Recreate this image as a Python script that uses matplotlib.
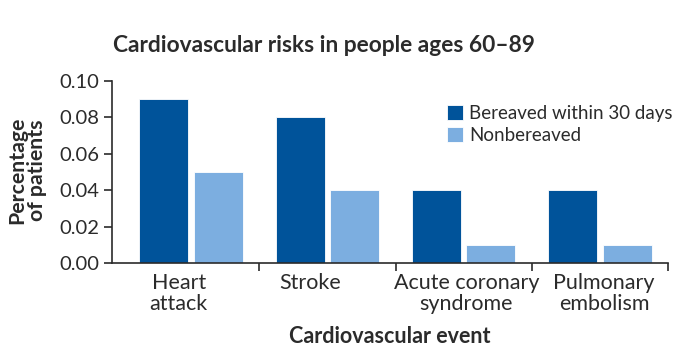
import numpy as np
import matplotlib
matplotlib.use("Agg")
import matplotlib.pyplot as plt

plt.rcParams['font.family'] = ['Lato', 'DejaVu Sans']

# data
events = ["Heart\nattack", "Stroke", "Acute coronary\nsyndrome", "Pulmonary\nembolism"]
bereaved = [0.09, 0.08, 0.04, 0.04]
nonbereaved = [0.05, 0.04, 0.01, 0.01]
yticks = [0.00, 0.02, 0.04, 0.06, 0.08, 0.10]

dark = '#00539a'
light = '#7caee0'
ink = '#2b2b2b'

fig = plt.figure(figsize=(6.79, 3.63), dpi=100)
ax = fig.add_axes([0.165, 0.2755, 0.819, 0.5014])

x = np.arange(len(events))
w = 0.36
ax.bar(x - 0.2, bereaved, w, color=dark, edgecolor='white', linewidth=0.6, label='Bereaved within 30 days')
ax.bar(x + 0.2, nonbereaved, w, color=light, edgecolor='white', linewidth=0.6, label='Nonbereaved')

ax.set_xlim(-0.58, 3.5)
ax.set_ylim(0, 0.1)
ax.set_yticks(yticks)
ax.set_yticklabels(['%.2f' % v for v in yticks])

# category labels sit slightly off the group centres in the original
label_shift = [-0.09, -0.13, 0.02, 0.03]
ax.set_xticks(x + np.array(label_shift))
ax.set_xticklabels(events, linespacing=1.05)
ax.set_xticks(x + 0.5, minor=True)
ax.tick_params(axis='x', which='major', length=0, pad=7, labelsize=15.5, colors=ink)
ax.tick_params(axis='x', which='minor', length=6, width=1.2, color=ink)
ax.tick_params(axis='y', length=6, width=1.2, pad=3, labelsize=14.5, colors=ink)

for s in ['top', 'right']:
    ax.spines[s].set_visible(False)
for s in ['left', 'bottom']:
    ax.spines[s].set_color(ink)
    ax.spines[s].set_linewidth(1.2)

ax.set_xlabel('Cardiovascular event', fontsize=15.5, fontweight='bold', color=ink, labelpad=9)
fig.text(0.04, 0.53, 'Percentage\nof patients', rotation=90, ha='center', va='center',
         fontsize=15.3, fontweight='bold', color=ink, linespacing=0.95)
fig.text(0.4765, 0.876, 'Cardiovascular risks in people ages 60\u201389', ha='center', va='center',
         fontsize=16.4, fontweight='bold', color=ink)

ax.legend(loc='upper left', bbox_to_anchor=(0.658, 0.711), bbox_transform=fig.transFigure,
          frameon=False, fontsize=13.5, handlelength=0.85, handleheight=0.85,
          handletextpad=0.35, labelspacing=0.25, labelcolor=ink, borderpad=0,
          borderaxespad=0)

fig.savefig('out.png', dpi=100)
